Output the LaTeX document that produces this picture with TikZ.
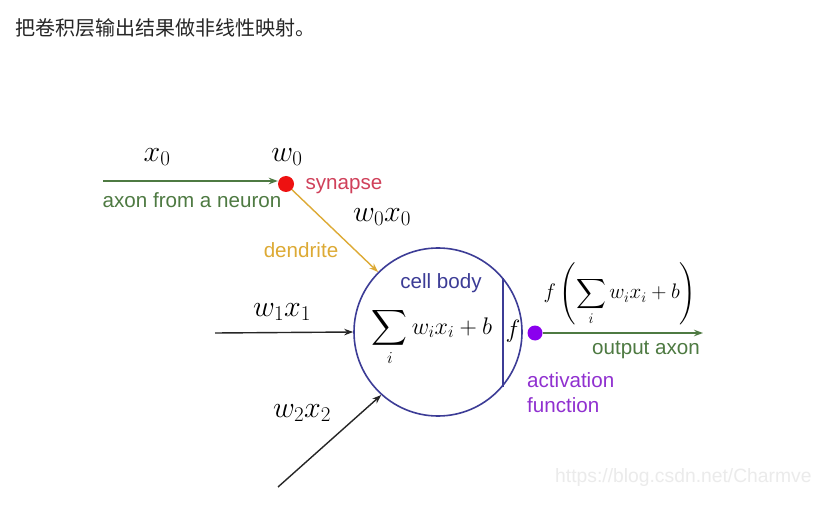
\RequirePackage{fix-cm}
\documentclass[tikz,border=0pt]{standalone}
\usepackage{amsmath}
\usepackage{fontspec}
\setmainfont{Liberation Sans}
\newfontfamily\cjk{Noto Sans CJK SC}
\usetikzlibrary{arrows.meta}
\definecolor{axgreen}{HTML}{4E7A42}
\definecolor{dendcol}{HTML}{DDAA35}
\definecolor{cellblue}{HTML}{3C3C96}
\definecolor{synred}{HTML}{D0405A}
\definecolor{dotred}{HTML}{EE1111}
\definecolor{actpurple}{HTML}{9030D0}
\definecolor{dotpurple}{HTML}{8A00EE}
\definecolor{wm}{HTML}{EBEBEB}
\tikzset{
  lbl/.style={inner sep=0pt, font=\fontsize{20.6}{24}\selectfont},
  mlbl/.style={inner sep=0pt, font=\fontsize{30}{36}\selectfont},
  conn/.style={line width=1.4pt, -{Stealth[length=9pt,width=6.5pt]}},
  dotnode/.style={circle, inner sep=0pt, minimum size=16pt},
}
\begin{document}
\begin{tikzpicture}[x=1pt,y=-1pt]
\clip (0,0) rectangle (818,526);
\fill[white] (0,0) rectangle (818,526);
% heading
\node[anchor=west, inner sep=0pt, text=black!85, font=\cjk\fontsize{20}{24}\selectfont] (title) at (15,28) {把卷积层输出结果做非线性映射。};
% watermark
\node[anchor=west, inner sep=0pt, text=wm, font=\fontsize{19.3}{24}\selectfont] (wmark) at (555,478) {https://blog.csdn.net/Charmve};

% cell body
\coordinate (cc) at (438,332);
\node[circle, draw=cellblue, line width=1.6pt, minimum size=168pt, inner sep=0pt] (cell) at (cc) {};
\coordinate (ftop) at (503,278);
\coordinate (fbot) at (503,387);
\draw[cellblue, line width=1.6pt] (ftop) -- (fbot);
\node[lbl, text=cellblue] (cb) at (441,283) {cell body};
\node[inner sep=0pt, font=\fontsize{24}{28}\selectfont] (sum) at (432,337) {$\displaystyle\sum_i w_ix_i+b$};
\node[inner sep=0pt, font=\fontsize{25}{28}\selectfont] (f) at (513,331) {$f$};

% synapse
\node[dotnode, fill=dotred] (syn) at (286,184) {};
\coordinate (x0start) at (103,181);
\draw[conn, axgreen] (x0start) -- (x0start -| syn.west);
\node[mlbl] (x0) at (157,157) {$x_0$};
\node[mlbl] (w0) at (287,157) {$w_0$};
\node[lbl, text=synred] (synl) at (344,186) {synapse};
\node[lbl, text=axgreen] (axl) at (192,200) {axon from a neuron};
\node[mlbl] (w0x0) at (382,217) {$w_0x_0$};

% dendrite
\draw[conn, dendcol] (syn) -- (cell.135);
\node[lbl, text=dendcol] (dend) at (301,250) {dendrite};

% w1x1
\coordinate (w1start) at (215,333);
\draw[conn, black!85] (w1start) -- (cell.180);
\node[mlbl] (w1x1) at (282,312) {$w_1x_1$};

% w2x2
\coordinate (w2start) at (278,487);
\draw[conn, black!85] (w2start) -- (cell.228);
\node[mlbl] (w2x2) at (302,413) {$w_2x_2$};

% output
\node[dotnode, fill=dotpurple, minimum size=15pt] (act) at (535,333) {};
\coordinate (outend) at (703,333);
\draw[conn, axgreen] (act.east) -- (outend);
\node[lbl, text=axgreen] (outl) at (646,350) {output axon};
\node[inner sep=0pt, font=\fontsize{21}{26}\selectfont] (fout) at (620,294) {$f\left(\displaystyle\sum_i w_ix_i+b\right)$};
\node[lbl, text=actpurple, anchor=west, align=left, font=\fontsize{20.6}{25}\selectfont] (actl) at (527,393) {activation\\function};
\end{tikzpicture}
\end{document}
